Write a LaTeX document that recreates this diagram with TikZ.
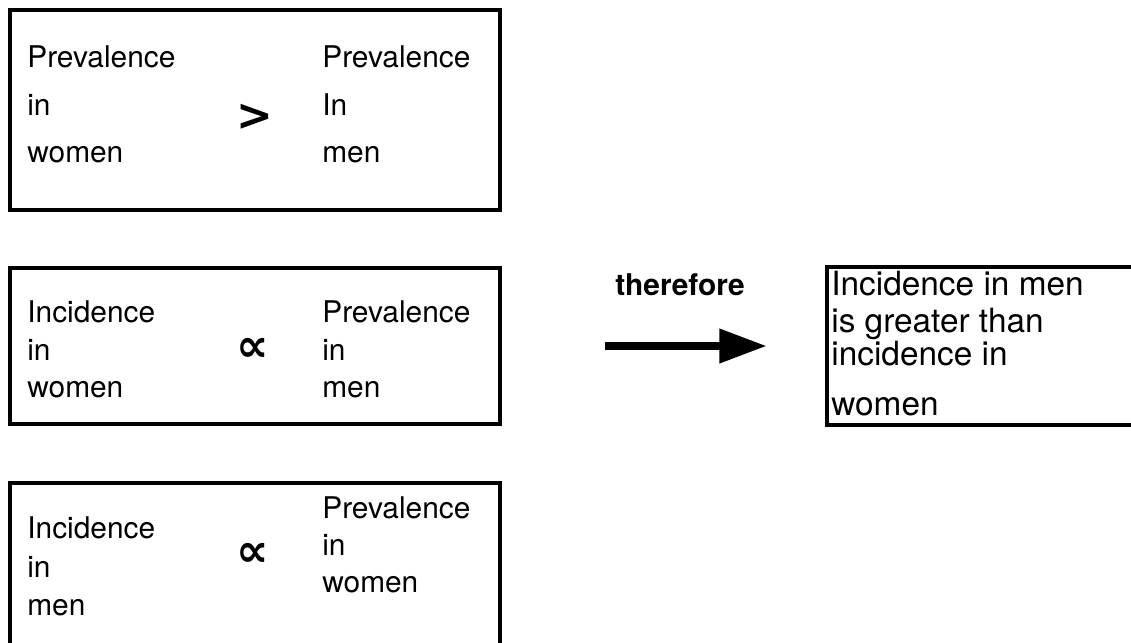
\documentclass[tikz,border=0pt]{standalone}
\usepackage{fontspec}
\setmainfont{TeX Gyre Heros}
\newfontfamily\relfont{DejaVu Sans}
\usetikzlibrary{arrows.meta}

\begin{document}
\begin{tikzpicture}[x=0.02cm, y=-0.02cm,
    frame/.style={draw, line width=1.8pt, inner sep=0pt, minimum width=9.8cm},
    words/.style={anchor=north west, inner sep=0pt, align=left, font=\fontsize{17}{#1}\selectfont},
    words/.default=21pt,
    relsym/.style={inner sep=0pt, font=\relfont\bfseries\fontsize{#1}{#1}\selectfont},
    relsym/.default=26pt]
    \useasboundingbox (0,0) rectangle (1131,642);

    %premise boxes
    \node[frame, minimum height=4cm] (prev) at (255,110) {};
    \node[frame, minimum height=3.12cm] (incw) at (255,346) {};
    \node[frame, minimum height=3.24cm] (incm) at (255,564) {};

    %first premise
    \node[words=27pt] (prevw) at (27,45.5) {Prevalence\\in\\women};
    \node[relsym=25pt] (gt) at (255,117) {>};
    \node[words=27pt] (prevm) at (322,45.5) {Prevalence\\In\\men};

    %second premise
    \node[words=21.3pt] (incwl) at (27,300.5) {Incidence\\in\\women};
    \node[relsym] (propw) at (253,350) {∝};
    \node[words=21.3pt] (incwr) at (322,300.5) {Prevalence\\in\\men};

    %third premise
    \node[words=22pt] (incml) at (27,516.5) {Incidence\\in\\men};
    \node[relsym] (propm) at (253,555) {∝};
    \node[words=21pt] (incmr) at (322,496.5) {Prevalence\\in\\women};

    %conclusion
    \node[frame, minimum width=6.24cm, minimum height=3.16cm] (concl) at (983,346) {};
    \node[anchor=north west, inner sep=0pt, align=left, font=\fontsize{19}{19}\selectfont] (conclw) at (831,271) {Incidence in men\\[2pt]is greater than\\incidence in\\[9pt]women};
    \node[font=\fontsize{17}{17}\selectfont\bfseries, anchor=base] (thf) at (680,295) {therefore};
    \draw[line width=4pt, -{Triangle[length=0.94cm, width=0.66cm]}, shorten <=2.06cm, shorten >=1.18cm] (incw.east) -- (concl.west);
\end{tikzpicture}
\end{document}
